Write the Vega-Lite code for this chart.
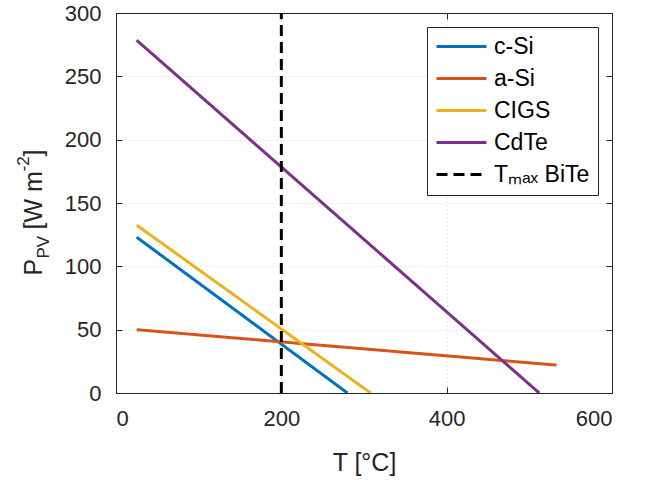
{
  "$schema": "https://vega.github.io/schema/vega-lite/v6.json",
  "autosize": "none",
  "width": 496,
  "height": 380,
  "padding": {"left": 116, "top": 13, "right": 34, "bottom": 87},
  "background": "white",
  "data": {
    "values": [
      {"series": "c-Si", "T": 25, "P": 123},
      {"series": "c-Si", "T": 280, "P": 0},
      {"series": "a-Si", "T": 25, "P": 50},
      {"series": "a-Si", "T": 533, "P": 22},
      {"series": "CIGS", "T": 25, "P": 132.5},
      {"series": "CIGS", "T": 308, "P": 0},
      {"series": "CdTe", "T": 25, "P": 278.5},
      {"series": "CdTe", "T": 512, "P": 0},
      {"series": "Tₘₐₓ BiTe", "T": 200, "P": 0},
      {"series": "Tₘₐₓ BiTe", "T": 200, "P": 300}
    ]
  },
  "layer": [
    {
      "mark": {"type": "line", "strokeWidth": 3, "clip": true},
      "encoding": {
        "x": {
          "field": "T", "type": "quantitative",
          "scale": {"domain": [0, 600], "nice": false},
          "axis": {"orient": "bottom", "values": [0, 200, 400, 600], "title": "T [°C]", "titleFontSize": 25, "titleY": 77, "titleBaseline": "alphabetic", "labelPadding": 21, "tickSize": -6, "grid": true,
            "gridOpacity": {"condition": {"test": "datum.value >= 600", "value": 0}, "value": 1}}
        },
        "y": {
          "field": "P", "type": "quantitative",
          "scale": {"domain": [0, 300], "nice": false},
          "axis": {"orient": "left", "values": [0, 50, 100, 150, 200, 250, 300], "title": "P", "titleFontSize": 25, "titleAlign": "left", "titleBaseline": "alphabetic", "titleX": -75, "titleY": 262, "labelPadding": 21, "tickSize": -6, "grid": true,
            "gridOpacity": {"condition": {"test": "datum.value >= 300", "value": 0}, "value": 1}}
        },
        "color": {
          "field": "series", "type": "nominal",
          "scale": {"domain": ["c-Si", "a-Si", "CIGS", "CdTe", "Tₘₐₓ BiTe"], "range": ["#0072BD", "#D95319", "#EDB120", "#7E2F8E", "#000000"]},
          "legend": {"title": null, "orient": "none", "legendX": 311, "legendY": 14}
        },
        "strokeDash": {
          "field": "series", "type": "nominal",
          "scale": {"domain": ["c-Si", "a-Si", "CIGS", "CdTe", "Tₘₐₓ BiTe"], "range": [[1, 0], [1, 0], [1, 0], [1, 0], [11, 6]]},
          "legend": {"title": null, "orient": "none", "legendX": 311, "legendY": 14}
        }
      }
    },
    {
      "mark": {"type": "point", "opacity": 0},
      "encoding": {
        "y": {"field": "P", "type": "quantitative", "scale": {"domain": [0, 300], "nice": false},
          "axis": {"orient": "left", "title": "PV", "titleFontSize": 17, "titleAlign": "left", "titleBaseline": "alphabetic", "titleX": -68, "titleY": 245, "labels": false, "ticks": false, "domain": false, "grid": false}}
      }
    },
    {
      "mark": {"type": "point", "opacity": 0},
      "encoding": {
        "y": {"field": "P", "type": "quantitative", "scale": {"domain": [0, 300], "nice": false},
          "axis": {"orient": "left", "title": "[W m", "titleFontSize": 25, "titleAlign": "left", "titleBaseline": "alphabetic", "titleX": -75, "titleY": 216, "labels": false, "ticks": false, "domain": false, "grid": false}}
      }
    },
    {
      "mark": {"type": "point", "opacity": 0},
      "encoding": {
        "y": {"field": "P", "type": "quantitative", "scale": {"domain": [0, 300], "nice": false},
          "axis": {"orient": "left", "title": "-2", "titleFontSize": 17, "titleAlign": "left", "titleBaseline": "alphabetic", "titleX": -88, "titleY": 158, "labels": false, "ticks": false, "domain": false, "grid": false}}
      }
    },
    {
      "mark": {"type": "point", "opacity": 0},
      "encoding": {
        "y": {"field": "P", "type": "quantitative", "scale": {"domain": [0, 300], "nice": false},
          "axis": {"orient": "left", "title": "]", "titleFontSize": 25, "titleAlign": "left", "titleBaseline": "alphabetic", "titleX": -75, "titleY": 143, "labels": false, "ticks": false, "domain": false, "grid": false}}
      }
    },
    {
      "mark": {"type": "point", "opacity": 0},
      "encoding": {
        "x": {"field": "T", "type": "quantitative", "scale": {"domain": [0, 600], "nice": false},
          "axis": {"orient": "top", "values": [0, 200, 400, 600], "title": null, "labels": false, "domain": false, "grid": false, "tickSize": -6}},
        "y": {"field": "P", "type": "quantitative", "scale": {"domain": [0, 300], "nice": false},
          "axis": {"orient": "right", "values": [0, 50, 100, 150, 200, 250, 300], "title": null, "labels": false, "domain": false, "grid": false, "tickSize": -6}}
      }
    }
  ],
  "resolve": {"axis": {"x": "independent", "y": "independent"}},
  "config": {
    "view": {"stroke": "#262626", "strokeWidth": 1},
    "font": "Liberation Sans",
    "axis": {
      "labelFont": "Liberation Sans", "labelFontSize": 22, "labelColor": "#262626",
      "titleFont": "Liberation Sans", "titleFontWeight": "normal", "titleColor": "#262626",
      "domainColor": "#262626", "tickColor": "#262626",
      "gridColor": "#cfcfcf", "gridDash": [1, 3], "gridOpacity": 1
    },
    "legend": {
      "labelFont": "Liberation Sans", "labelFontSize": 23, "labelColor": "#000000",
      "symbolType": "M-1.25,0H5", "symbolSize": 256, "symbolStrokeWidth": 3,
      "strokeColor": "#262626", "fillColor": "white", "padding": 8, "rowPadding": 8, "labelOffset": 36,
      "labelLimit": 300
    }
  }
}
